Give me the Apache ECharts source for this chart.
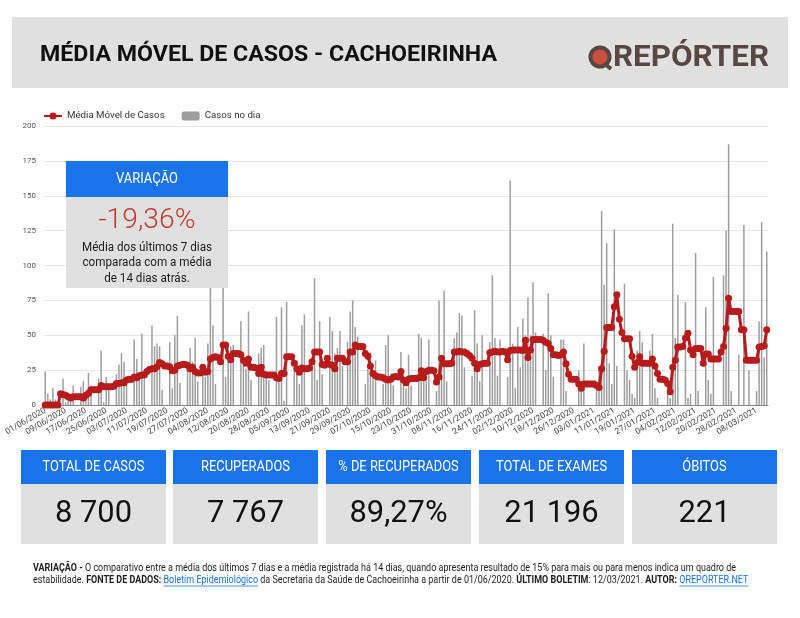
<!DOCTYPE html>
<html><head><meta charset="utf-8">
<script src="https://cdn.jsdelivr.net/npm/echarts@6.0.0/dist/echarts.min.js"></script>
<style>html,body{margin:0;padding:0;background:#fff}#c{width:800px;height:618px}</style>
</head><body><div id="c"></div>
<script>
// ---------- DATA ----------
const startDate = [2020, 5, 1];   // 01/06/2020
const dayCount = 285;             // through 12/03/2021
const dateLabels = [];
for (let i = 0; i < dayCount; i++) {
  const d = new Date(Date.UTC(startDate[0], startDate[1], startDate[2] + i));
  dateLabels.push(String(d.getUTCDate()).padStart(2, '0') + '/' + String(d.getUTCMonth() + 1).padStart(2, '0') + '/' + d.getUTCFullYear());
}

const dailyCases = [
  24,8,4,12,4,0,0,19,2,5,
  3,14,0,0,13,17,6,23,14,0,
  0,19,39,2,20,15,0,0,22,29,
  37,31,15,0,0,47,33,21,51,20,
  0,0,57,42,44,42,11,0,0,45,
  12,50,64,16,0,0,28,41,31,48,
  17,0,27,20,44,84,57,15,0,0,
  84,20,42,42,43,0,0,60,29,26,
  67,18,0,0,37,41,43,22,18,0,
  0,63,20,70,3,74,0,0,24,32,
  15,57,65,0,0,30,91,18,60,22,
  0,0,63,53,37,41,53,28,0,45,
  67,75,56,49,0,0,15,26,38,20,
  32,0,0,15,43,50,20,14,0,0,
  38,18,12,36,14,0,0,51,48,25,
  17,47,0,0,10,75,30,82,17,0,
  0,48,52,66,64,27,0,0,21,68,
  44,17,50,0,0,45,93,48,21,47,
  0,0,20,161,44,12,56,27,62,50,
  77,50,88,52,0,0,51,25,80,50,
  20,0,0,47,47,10,0,0,0,0,
  25,14,44,0,0,0,0,11,28,139,
  86,116,30,15,126,28,0,0,87,25,
  18,8,5,39,53,45,0,0,39,51,
  12,5,0,0,0,15,5,130,48,79,
  0,0,74,5,8,0,109,10,0,0,
  70,18,8,92,0,0,0,93,125,187,
  10,0,0,36,0,129,0,25,0,0,
  10,60,131,34,110
];

const movingAvg = [
  0,0,0,0,0,0,8,7.5,7,6,
  5,6,6,6,6,5,7,8.5,11,11,
  11,11,14,13,13,13,13,13.5,15.5,15.5,
  16,16,18,18.5,18.5,20,19.5,21,21.5,21.5,
  24,25.5,26,26,27.5,30.5,29.5,28,28,27.5,
  24.5,25,28,28.5,29,29,28.5,26,27,24,
  23,23,27,23.5,24,33,34,34.5,34,31,
  43,43,35,32.5,37,37,37,36,32,30,
  33,27,27,26.5,22.5,27,22,21.5,21.5,21.5,
  21.5,19.5,19,22.5,22.5,34.5,34.5,34.5,30,26,
  23.5,26.5,26,26,26.5,31,38,38,38,29,
  28.5,33.5,29,28.5,26,33.5,33.5,33.5,31,31,
  38,38,43,42,42,42,37,35,28,22.5,
  21,20,20,19.5,18.5,18,18.5,20,20.5,20,
  24,18,16,18.5,19,19,19,19.5,24.5,19.5,
  24,25,25,24.5,16.5,20,33.5,29.5,29.5,29.5,
  30,38,38,38.5,38,38,37,35.5,33.5,30,
  26,29,29.5,30,30,37.5,38,38.5,38,38,
  38.5,38,32.5,39,39.5,39.5,39.5,39.5,39,46.5,
  34,39.5,47,47,47,47,46.5,45,44,40.5,
  36,36,35.5,36,38,29.5,22,18.5,18.5,18.5,
  15,12,15,15,15,15,15,14,12.5,26,
  38.5,55.5,55.5,55.5,70.5,79,61.5,52,47.5,47.5,
  47.5,35,27,30.5,34.5,30,30,30,30,33,
  28,22.5,18.5,18.5,18,15.5,9.5,27,32,41.5,
  41.5,42,48,51.5,39.5,36,40.5,40.5,40.5,30,
  36.5,36.5,33,33,33,33,38,42,55,76.5,
  67,67,67,67,54,54,32,32,32,32,
  32,41.5,42,42.5,54
];

const yTicks = { min: 0, max: 200, interval: 25 };
const titleText = 'MÉDIA MÓVEL DE CASOS - CACHOEIRINHA';
const variationTitle = 'VARIAÇÃO';
const variationValue = '-19,36%';
const variationLines = ['Média dos últimos 7 dias', 'comparada com a média', 'de 14 dias atrás.'];
const kpiLabels = ['TOTAL DE CASOS', 'RECUPERADOS', '% DE RECUPERADOS', 'TOTAL DE EXAMES', 'ÓBITOS'];
const kpiValues = ['8 700', '7 767', '89,27%', '21 196', '221'];

// ---------- HELPERS ----------
const mctx = document.createElement('canvas').getContext('2d');
function tw(text, font) { mctx.font = font; return mctx.measureText(text).width; }
const g = [];
function rect(x, y, w, h, fill) {
  g.push({ type: 'rect', z: 100, silent: true, shape: { x, y, width: w, height: h }, style: { fill } });
}
function txt(text, x, y, font, fill, align, sx) {
  g.push({ type: 'text', z: 101, silent: true, x, y, scaleX: sx || 1,
    style: { text, x: 0, y: 0, font, fill, textAlign: align || 'left', align: align || 'left',
             textVerticalAlign: 'middle', verticalAlign: 'middle' } });
}

// Header
rect(12, 17, 776, 71, '#e0e0e0');
const titleFont = 'bold 22px Roboto';
txt(titleText, 40, 55, titleFont, '#111', 'left', 457 / tw(titleText, titleFont));
// Logo
g.push({ type: 'circle', z: 101, silent: true, shape: { cx: 600, cy: 57, r: 9.5 }, style: { fill: '#c8503c', stroke: '#584844', lineWidth: 4 } });
g.push({ type: 'line', z: 101, silent: true, shape: { x1: 605, y1: 64, x2: 611, y2: 69 }, style: { stroke: '#584844', lineWidth: 4 } });
const logoFont = 'bold 30px Roboto';
txt('REPÓRTER', 613, 58, logoFont, '#584844', 'left', 156 / tw('REPÓRTER', logoFont));

// Variation box
rect(66, 161, 162, 36, '#1a73e8');
rect(66, 197, 162, 91, '#e0e0e0');
const vtFont = '14px Roboto';
txt(variationTitle, 147, 179, vtFont, '#fff', 'center', 62 / tw(variationTitle, vtFont));
const vvFont = '300 28px Roboto';
txt(variationValue, 147, 221, vvFont, '#c53a2e', 'center', 97 / tw(variationValue, vvFont));
const vlFont = '12.5px Roboto';
const vlScale = 130 / tw(variationLines[0], vlFont);
variationLines.forEach((l, k) => txt(l, 147, 248 + k * 15.2, vlFont, '#1e1e1e', 'center', vlScale));

// KPI boxes
const kx = [21, 173, 326, 479, 632];
const kLabFont = '14px Roboto';
const kLabScale = 102 / tw(kpiLabels[0], kLabFont);
const kValFont = '32px Roboto';
const kValScale = 77 / tw(kpiValues[0], kValFont);
kx.forEach((x, k) => {
  rect(x, 450, 145, 34, '#1a73e8');
  rect(x, 484, 145, 60, '#e0e0e0');
  txt(kpiLabels[k], x + 72.5, 467, kLabFont, '#fff', 'center', kLabScale);
  txt(kpiValues[k], x + 72.5, 514, kValFont, '#111', 'center', kValScale);
});

// Footer
const fSize = 10.5;
function segFont(sg) { return (sg.b ? 'bold ' : '') + fSize + 'px Roboto'; }
const line1 = [
  { t: 'VARIAÇÃO - ', b: true },
  { t: 'O comparativo entre a média dos últimos 7 dias e a média registrada há 14 dias, quando apresenta resultado de 15% para mais ou para menos indica um quadro de' }
];
const line2 = [
  { t: 'estabilidade. ' }, { t: 'FONTE DE DADOS: ', b: true }, { t: 'Boletim Epidemiológico', link: true },
  { t: ' da Secretaria da Saúde de Cachoeirinha a partir de 01/06/2020. ' }, { t: 'ÚLTIMO BOLETIM', b: true },
  { t: ': 12/03/2021. ' }, { t: 'AUTOR: ', b: true }, { t: 'OREPORTER.NET', link: true }
];
let w1 = 0; line1.forEach(sg => w1 += tw(sg.t, segFont(sg)));
const fScale = 703 / w1;
function layoutLine(segs, x0, y) {
  let x = x0;
  segs.forEach(sg => {
    const font = segFont(sg);
    const w = tw(sg.t, font) * fScale;
    const col = sg.link ? '#1a73e8' : '#1e1e1e';
    txt(sg.t, x, y, font, col, 'left', fScale);
    if (sg.link) g.push({ type: 'line', z: 101, silent: true, shape: { x1: x, y1: y + 6, x2: x + w, y2: y + 6 }, style: { stroke: col, lineWidth: 0.8 } });
    x += w;
  });
}
layoutLine(line1, 33, 568);
layoutLine(line2, 33, 580);

// ---------- CHART ----------
const chart = echarts.init(document.getElementById('c'), null, { renderer: 'canvas' });
chart.setOption({
  animation: false,
  backgroundColor: '#fff',
  textStyle: { fontFamily: 'Roboto' },
  legend: {
    left: 38, top: 106, itemWidth: 18, itemHeight: 9, itemGap: 17,
    textStyle: { fontSize: 9.7, color: '#333', fontFamily: 'Roboto' }
  },
  grid: { left: 44, right: 32, top: 126, bottom: 213 },
  xAxis: {
    type: 'category', data: dateLabels, boundaryGap: true,
    axisTick: { show: false },
    axisLine: { lineStyle: { color: '#888', width: 1 } },
    axisLabel: { interval: 7, rotate: 30, fontSize: 8.5, color: '#444', margin: 5,
                 showMinLabel: true, hideOverlap: false },
    splitLine: { show: false }
  },
  yAxis: {
    type: 'value', min: yTicks.min, max: yTicks.max, interval: yTicks.interval,
    axisLine: { show: false }, axisTick: { show: false },
    axisLabel: { fontSize: 8, color: '#555', margin: 8 },
    splitLine: { lineStyle: { color: '#e6e6e6', width: 1 } }
  },
  series: [
    { name: 'Média Móvel de Casos', type: 'line', data: movingAvg, color: '#b71c1c',
      lineStyle: { width: 3, color: '#b71c1c' }, itemStyle: { color: '#b71c1c' },
      symbol: 'circle', symbolSize: 7, showAllSymbol: true, z: 4 },
    { name: 'Casos no dia', type: 'bar', data: dailyCases, barWidth: 1.5, color: '#9e9e9e',
      itemStyle: { color: '#9e9e9e' }, z: 2 }
  ],
  graphic: { elements: g }
});
</script>
</body></html>
